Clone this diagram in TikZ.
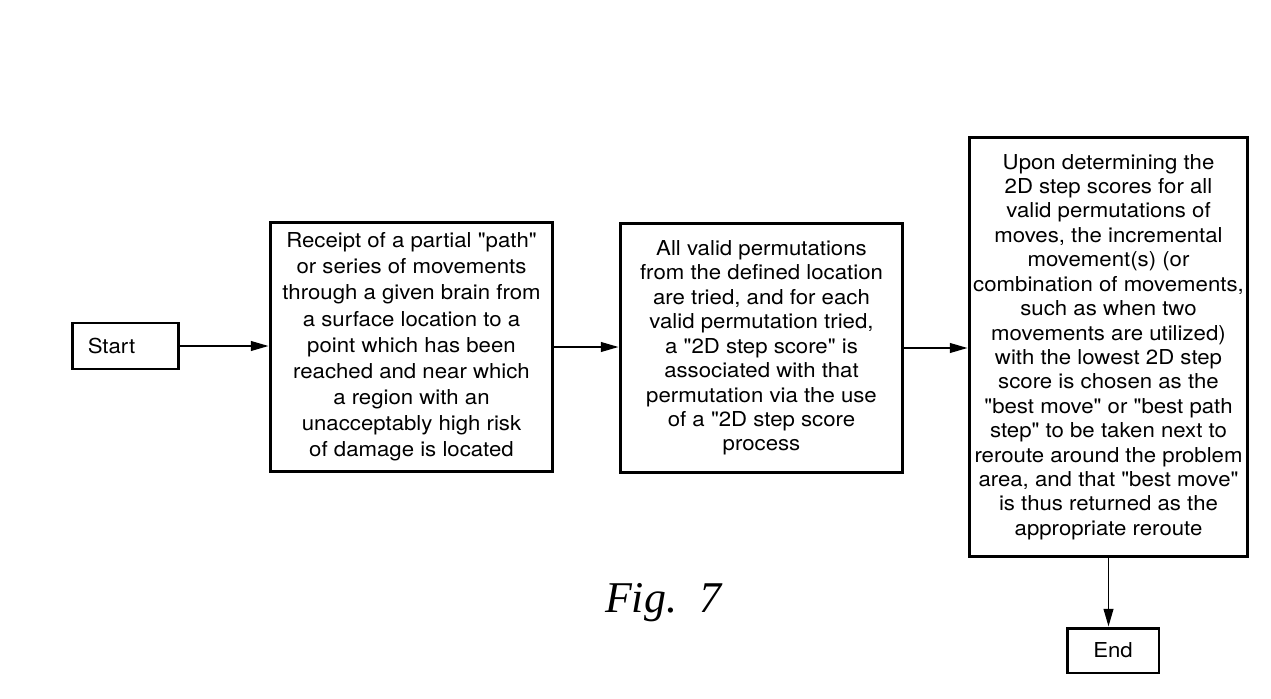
\documentclass[tikz,border=0pt]{standalone}
\usepackage{fontspec}
\setsansfont{TeX Gyre Heros}[Ligatures=TeXOff, FakeStretch=1.08]
\newfontfamily\figfont{Liberation Serif}
\usetikzlibrary{arrows.meta,positioning}

\begin{document}
\begin{tikzpicture}[
    x=0.02cm, y=-0.02cm,
    box/.style={rectangle, draw, line width=1.7pt, align=center, inner sep=0pt,
        font=\sffamily\fontsize{11.7}{13.9}\selectfont},
    arrow/.style={-{Triangle[length=10pt,width=5.5pt]}, line width=1pt}
]
\useasboundingbox (0,0) rectangle (1271,699);

\node[box, minimum width=2.12cm, minimum height=0.92cm, anchor=west] (start) at (71,346)
    {\hspace*{-0.56cm}Start};
\node[box, minimum width=5.66cm, minimum height=5cm, font=\sffamily\fontsize{11.7}{14.9}\selectfont] (receipt) at (411.5,347)
    {Receipt of a partial "path"\\ or series of movements\\ through a given brain from\\
     a surface location to a\\ point which has been\\ reached and near which\\
     a region with an\\ unacceptably high risk\\ of damage is located};
\node[box, minimum width=5.66cm, minimum height=5cm] (permute) at (761.5,348)
    {All valid permutations\\ from the defined location\\ are tried, and for each\\
     valid permutation tried,\\ a "2D step score" is\\ associated with that\\
     permutation via the use\\ of a "2D step score\\ process};
\node[box, minimum width=5.58cm, minimum height=8.4cm] (bestmove) at (1108.5,347)
    {Upon determining the\\ 2D step scores for all\\ valid permutations of\\
     moves, the incremental\\ movement(s) (or\\ combination of movements,\\
     such as when two\\ movements are utilized)\\ with the lowest 2D step\\
     score is chosen as the\\ "best move" or "best path\\ step" to be taken next to\\
     reroute around the problem\\ area, and that "best move"\\ is thus returned as the\\
     appropriate reroute};
\node[box, minimum width=1.84cm, minimum height=0.9cm] (end) at (1113,650.5) {End};

\node[font=\figfont\itshape\fontsize{25}{30}\selectfont] (fig) at (663,603) {Fig.\ \ 7};

\draw[arrow] (start.east) -- (start.east -| receipt.west);
\draw[arrow] (receipt.east) -- (receipt.east -| permute.west);
\draw[arrow] (permute.east) -- (permute.east -| bestmove.west);
\draw[arrow] (bestmove.south) -- (bestmove.south |- end.north);
\end{tikzpicture}
\end{document}
